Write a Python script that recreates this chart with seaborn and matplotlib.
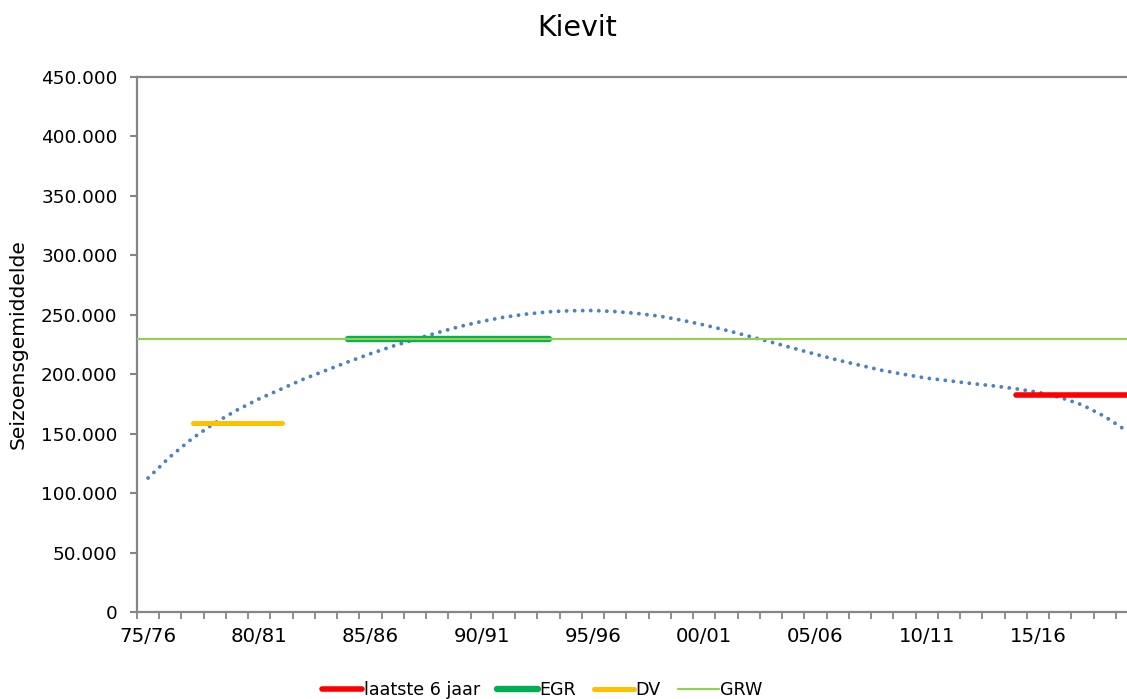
import numpy as np
import pandas as pd
import matplotlib
matplotlib.use('Agg')
import matplotlib.pyplot as plt
import seaborn as sns

# Seizoenen 75/76 t/m 19/20
start_jaren = list(range(1975, 2020))
seizoenen = [f"{j % 100:02d}/{(j + 1) % 100:02d}" for j in start_jaren]

trend = [112700, 130800, 146200, 159000, 169900, 179400, 187700, 196000, 203300, 210500,
         217300, 223600, 229400, 234900, 240100, 244400, 248000, 250600, 252500, 253400,
         253600, 252700, 251100, 248800, 245400, 241400, 236900, 232000, 227000, 221900,
         216800, 211900, 207500, 203200, 199800, 196700, 194500, 192200, 190200, 187800,
         184800, 180500, 174100, 164400, 152200]

# Referentieniveaus
grw_waarde = 229300
egr_waarde = 229300
egr_seizoenen = seizoenen[9:19]     # 84/85 - 93/94
dv_waarde = 159300
dv_seizoenen = seizoenen[2:7]       # 77/78 - 81/82
laatste_waarde = 182400
laatste_seizoenen = seizoenen[39:45]  # 14/15 - 19/20

sns.set_style('white')
plt.rcParams['font.family'] = ['DejaVu Sans']
plt.rcParams['text.color'] = 'black'
plt.rcParams['axes.labelcolor'] = 'black'
plt.rcParams['xtick.color'] = 'black'
plt.rcParams['ytick.color'] = 'black'

fig = plt.figure(figsize=(11.27, 6.99), dpi=100)
ax = fig.add_axes([137 / 1127, 1 - 612 / 699, 990 / 1127, 535 / 699])

pos = {s: i for i, s in enumerate(seizoenen)}

df_trend = pd.DataFrame({'x': range(len(seizoenen)), 'y': trend})
sns.lineplot(data=df_trend, x='x', y='y', ax=ax, color='#4F81BD', linewidth=2.8, zorder=2)
trendlijn = ax.lines[-1]
trendlijn.set_linestyle((0, (0.01, 2.06)))
trendlijn.set_dash_capstyle('round')

df_egr = pd.DataFrame({'x': [pos[s] for s in egr_seizoenen], 'y': egr_waarde})
sns.lineplot(data=df_egr, x='x', y='y', ax=ax, color='#00B050', linewidth=4.6,
             solid_capstyle='round', label='EGR', zorder=2.5)

# GRW over de hele breedte, loopt door de EGR heen
df_grw = pd.DataFrame({'x': [-0.5, len(seizoenen)], 'y': [grw_waarde] * 2})
sns.lineplot(data=df_grw, x='x', y='y', ax=ax, color='#92D050', linewidth=1.6,
             label='GRW', zorder=3)

df_dv = pd.DataFrame({'x': [pos[s] for s in dv_seizoenen], 'y': dv_waarde})
sns.lineplot(data=df_dv, x='x', y='y', ax=ax, color='#FFC000', linewidth=3.6,
             solid_capstyle='round', label='DV', zorder=2.5)

df_l6 = pd.DataFrame({'x': [pos[s] for s in laatste_seizoenen], 'y': laatste_waarde})
sns.lineplot(data=df_l6, x='x', y='y', ax=ax, color='#FF0000', linewidth=4.0,
             solid_capstyle='round', label='laatste 6 jaar', zorder=2.5)

ax.set_xlim(-0.5, 44)
ax.set_ylim(0, 450000)

# y-as
yt = np.arange(0, 450001, 50000)
ax.set_yticks(yt)
ax.set_yticklabels([f"{v:,.0f}".replace(',', '.') for v in yt])

# x-as: streepjes tussen de seizoenen, labels elke 5 seizoenen
ax.set_xticks(np.arange(-0.5, 44, 1.0))
ax.set_xticklabels([])
ax.set_xticks(list(range(0, 45, 5)), minor=True)
ax.set_xticklabels([seizoenen[i] for i in range(0, 45, 5)], minor=True)

ax.tick_params(axis='y', which='major', length=5, width=1.5, color='#868686',
               labelsize=13.3, pad=9, left=True)
ax.tick_params(axis='x', which='major', length=5, width=1.3, color='#868686',
               bottom=True, direction='out')
ax.tick_params(axis='x', which='minor', length=0, labelsize=14.2, pad=11, bottom=True)

for side in ['left', 'bottom', 'top']:
    ax.spines[side].set_color('#868686')
    ax.spines[side].set_linewidth(1.6)
ax.spines['right'].set_visible(False)

ax.set_xlabel('')
ax.set_ylabel('Seizoensgemiddelde', fontsize=14.6)
ax.yaxis.set_label_coords(-0.11, 0.5)

fig.text(577 / 1127, 1 - 28 / 699, 'Kievit', ha='center', va='center', fontsize=20.5)

ax.get_legend().remove()
handles, labels = ax.get_legend_handles_labels()
volgorde = ['laatste 6 jaar', 'EGR', 'DV', 'GRW']
hmap = dict(zip(labels, handles))
fig.legend([hmap[l] for l in volgorde], volgorde, loc='center',
           bbox_to_anchor=(542 / 1127, 1 - 690 / 699), ncol=4, frameon=False,
           fontsize=12.6, handlelength=2.3, handletextpad=0.1, columnspacing=1.0,
           borderpad=0)

fig.savefig('out.png', dpi=100)
